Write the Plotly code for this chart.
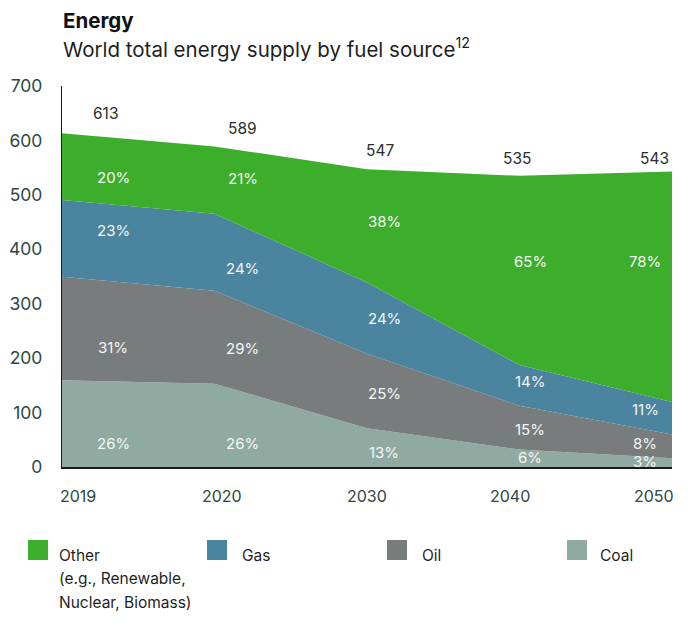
import plotly.graph_objects as go

# ---- data ----
years = ["2019", "2020", "2030", "2040", "2050"]
totals = [613, 589, 547, 535, 543]
pct_coal = [26, 26, 13, 6, 3]
pct_oil = [31, 29, 25, 15, 8]
pct_gas = [23, 24, 24, 14, 11]
pct_other = [20, 21, 38, 65, 78]
y_ticks = [0, 100, 200, 300, 400, 500, 600, 700]

series = [
    ("Coal", pct_coal, "#8faaa0"),
    ("Oil", pct_oil, "#787c7c"),
    ("Gas", pct_gas, "#4a849f"),
    ("Other", pct_other, "#3dae2c"),
]

# ---- layout geometry (pixels) ----
W, H = 688, 634
L, R, T, B = 62, 16, 86, 167
PW, PH = W - L - R, H - T - B
FONT = "Inter"

def px(x):
    return (x - L) / PW

def py(y):
    return (H - B - y) / PH

fig = go.Figure()
xs = list(range(len(years)))
for name, pct, color in series:
    vals = [t * p / 100 for t, p in zip(totals, pct)]
    fig.add_trace(go.Scatter(
        x=xs, y=vals, name=name, stackgroup="one", mode="none",
        fillcolor=color, hoverinfo="skip", showlegend=False,
    ))

ann = []
# year labels
year_px = [78, 222, 367, 510, 654]
for yr, xp in zip(years, year_px):
    ann.append(dict(x=px(xp), y=py(496), xref="paper", yref="paper", text=yr,
                    showarrow=False, xanchor="center", yanchor="middle",
                    font=dict(family=FONT, size=16, color="#2e4740")))
# totals
tot_px = [106, 243, 380, 517, 654]
tot_py = [113, 128, 150, 158, 158]
for t, xp, yp in zip(totals, tot_px, tot_py):
    ann.append(dict(x=px(xp), y=py(yp), xref="paper", yref="paper", text=str(t),
                    showarrow=False, xanchor="center", yanchor="middle",
                    font=dict(family=FONT, size=15.5, color="#2a2f2e")))
# percent labels
pct_px = [113, 243, 384, 530, 645]
pct_py = [
    [443, 347, 231, 177],
    [443, 348, 268, 178],
    [452, 393, 318, 221],
    [457, 429, 381, 261],
    [461, 443, 409, 261],
]
for i in range(len(years)):
    for j, (name, pct, color) in enumerate(series):
        ann.append(dict(x=px(pct_px[i]), y=py(pct_py[i][j]), xref="paper", yref="paper",
                        text=f"{pct[i]}%", showarrow=False, xanchor="center", yanchor="middle",
                        font=dict(family=FONT, size=15, color="#f4f6f4")))

# title
ann.append(dict(x=px(61), y=py(20), xref="paper", yref="paper", text="<b>Energy</b>",
                showarrow=False, xanchor="left", yanchor="middle",
                font=dict(family=FONT, size=20.5, color="#111111")))
ann.append(dict(x=px(61), y=py(48), xref="paper", yref="paper",
                text="World total energy supply by fuel source<sup>12</sup>",
                showarrow=False, xanchor="left", yanchor="middle",
                font=dict(family=FONT, size=20.5, color="#1e1e1e")))

# legend
legend_items = [
    (["Other", "(e.g., Renewable,", "Nuclear, Biomass)"], "#3dae2c", 28, 57),
    (["Gas"], "#4a849f", 207, 240),
    (["Oil"], "#787c7c", 387, 420),
    (["Coal"], "#8faaa0", 567, 598),
]
line_py = [555, 578, 602]
shapes = []
for lines, color, sx, tx in legend_items:
    shapes.append(dict(type="rect", xref="paper", yref="paper",
                       x0=px(sx), x1=px(sx + 20), y0=py(560), y1=py(540),
                       fillcolor=color, line=dict(width=0)))
    for k, line in enumerate(lines):
        ann.append(dict(x=px(tx), y=py(line_py[k]), xref="paper", yref="paper", text=line,
                        showarrow=False, xanchor="left", yanchor="middle", align="left",
                        font=dict(family=FONT, size=15.5, color="#1f1f1f")))

fig.update_layout(
    width=W, height=H,
    margin=dict(l=L, r=R, t=T, b=B, pad=0, autoexpand=False),
    paper_bgcolor="white", plot_bgcolor="white",
    showlegend=False,
    annotations=ann, shapes=shapes,
    xaxis=dict(range=[0, len(years) - 1], showticklabels=False, showgrid=False,
               zeroline=False, showline=True, linecolor="#1a1a1a", linewidth=1.5,
               ticks="", automargin=False),
    yaxis=dict(range=[0, 700], tickvals=y_ticks, showgrid=False, zeroline=False,
               showline=True, linecolor="#1a1a1a", linewidth=1.2, ticks="",
               ticklabelstandoff=15, automargin=False,
               tickfont=dict(family=FONT, size=17.5, color="#2e4740")),
)

fig.write_html("out.html", config={"displayModeBar": False},
               post_script="document.body.style.margin='0';document.body.style.padding='0';")
